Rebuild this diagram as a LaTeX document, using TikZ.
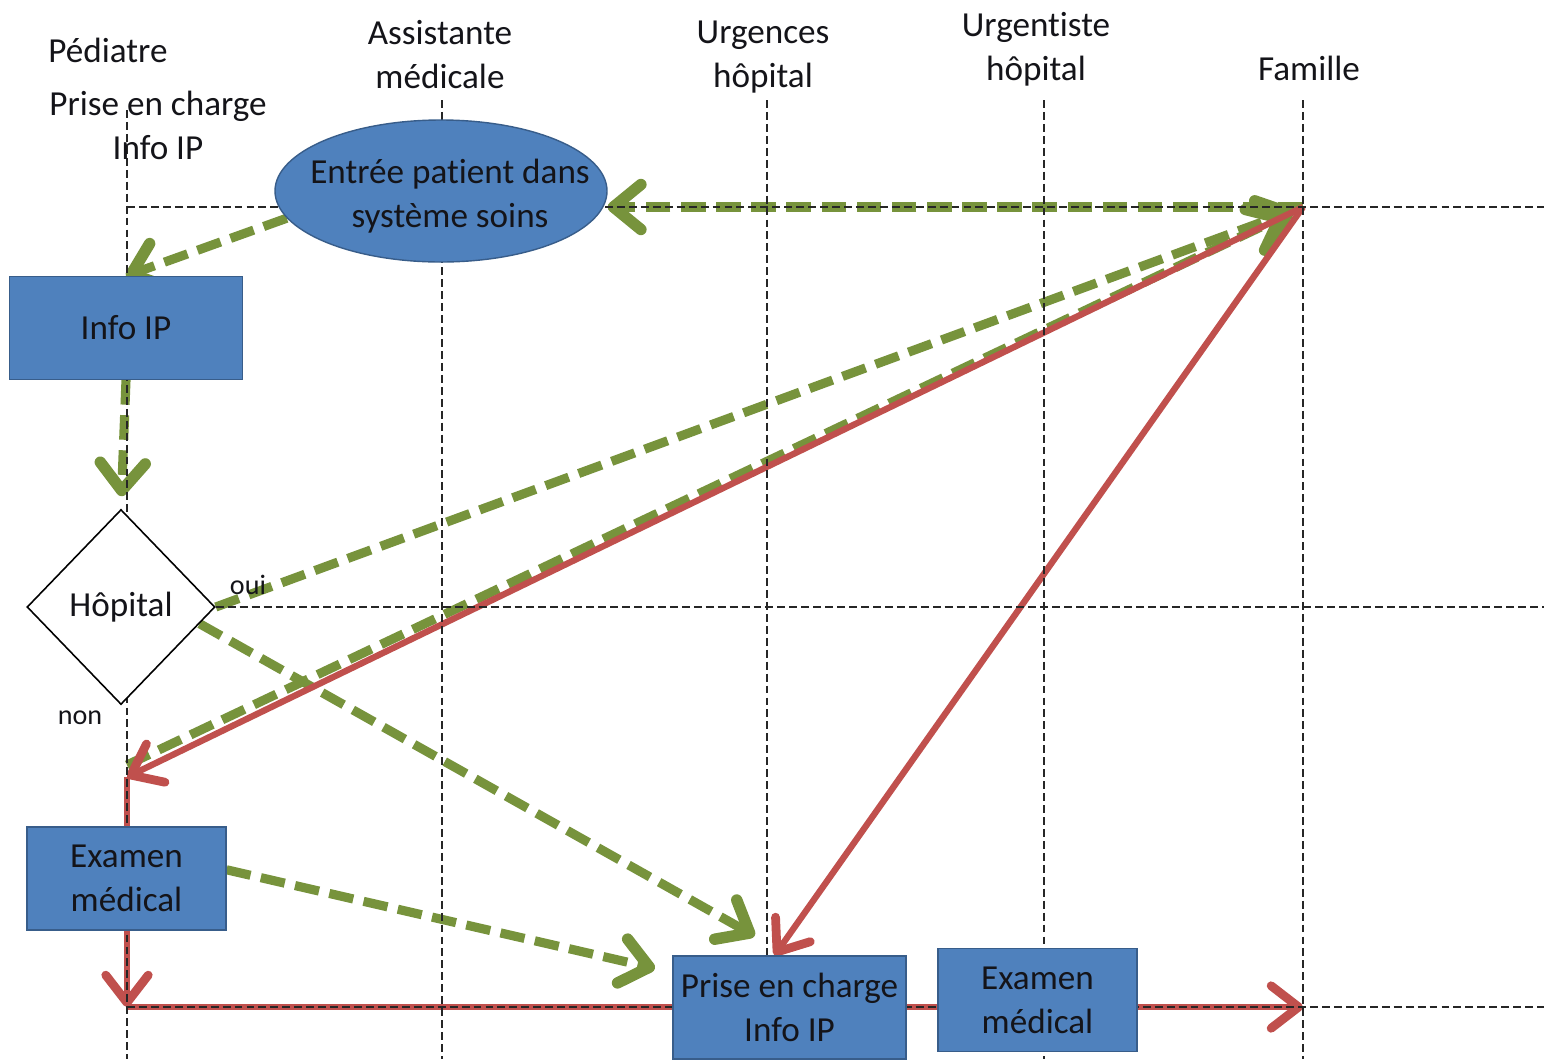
\documentclass[tikz,border=0pt]{standalone}
\usepackage{fontspec}
\setmainfont{Carlito}[Ligatures=NoCommon]
\usetikzlibrary{arrows.meta,shapes.geometric}
\definecolor{boxblue}{RGB}{79,129,189}
\definecolor{boxedge}{RGB}{56,93,138}
\definecolor{olive}{RGB}{119,147,60}
\definecolor{rust}{RGB}{192,80,77}
\definecolor{ink}{RGB}{20,20,25}
\pgfdeclarelayer{conn}
\pgfdeclarelayer{grid}
\pgfsetlayers{conn,grid,main}
\tikzset{
  lbl/.style={font=\fontsize{20}{25}\selectfont,align=center,text=ink},
  side lbl/.style={font=\fontsize{16}{19}\selectfont,text=ink},
  box/.style={fill=boxblue,draw=boxedge,line width=0.6pt,minimum width=#1,
    minimum height=2.06cm,inner sep=0pt,lbl},
  box/.default=4.66cm,
  entry/.style={ellipse,fill=boxblue,draw=boxedge,line width=0.8pt,
    minimum width=6.64cm,minimum height=2.84cm},
  choice/.style={diamond,draw=black,fill=white,line width=0.9pt,
    minimum width=3.76cm,minimum height=3.9cm,inner sep=0pt,lbl},
  lane/.style={draw=black!85,line width=1.1pt,dash pattern=on 4.5pt off 2.3pt},
  greenflow/.style={draw=olive,line width=5.2pt,dash pattern=on 14pt off 6pt,
    -{Straight Barb[length=5.5mm,width=9mm,line width=6.5pt,line cap=round,line join=round]}},
  redflow/.style={draw=rust,line width=3.6pt,
    -{Straight Barb[length=5.5mm,width=8.5mm,line width=5pt,line cap=round,line join=round]}},
}

\begin{document}
\begin{tikzpicture}[x=0.2mm,y=-0.2mm]
  \useasboundingbox (0,0) rectangle (1544,1059);

  % en-tetes des couloirs
  \node[lbl] (pediatre) at (108,50) {Pédiatre};
  \node[lbl] (pedtache) at (158,125) {Prise en charge\\Info IP};
  \node[lbl] (assist) at (440,55) {Assistante\\médicale};
  \node[lbl] (urgences) at (763,57) {Urgences\\hôpital};
  \node[lbl] (urgentiste) at (1036,49) {Urgentiste\\hôpital};
  \node[lbl] (famille) at (1309,68) {Famille};

  % etapes
  \node[entry] (entree) at (441,191) {};
  \node[lbl] (entreetxt) at (450,196) {Entrée patient dans\\système soins};
  \node[box] (info) at (126,328) {Info IP};
  \node[choice] (hopital) at (121,607) {Hôpital};
  \node[box=3.98cm] (examen) at (126.5,878.5) {Examen\\médical};
  \node[box] (prise) at (789.5,1007.5) {Prise en charge\\Info IP};
  \node[box=3.98cm] (examenurg) at (1037.5,1000) {Examen\\médical};
  \node[side lbl] (oui) at (248,585) {oui};
  \node[side lbl] (non) at (80,718) {non};

  \coordinate (fam) at (1303,207);
  \coordinate (pedhaut) at (127,765);
  \coordinate (pedbas) at (127,777);
  \coordinate (pedfin) at (127,1007);
  \coordinate (famfin) at (1303,1007);

  \begin{pgfonlayer}{grid}
    \foreach \x/\y in {127/110,442/100,767/100,1044/100,1303/100}
      \draw[lane] (\x,\y) -- (\x,1059);
    \draw[lane] (127,207) -- (1544,207);
    \draw[lane] (hopital.east) -- (1544,607);
    \draw[lane] (pedfin) -- (1544,1007);
  \end{pgfonlayer}

  \begin{pgfonlayer}{conn}
    \draw[greenflow] (entree.190) -- (info.north);
    \draw[greenflow,shorten >=2.5mm] (info.south) -- (hopital.north);
    \draw[greenflow] (fam) -- (entree.east |- fam);
    \draw[greenflow,shorten >=2mm] (hopital.east) -- (fam);
    \draw[greenflow,shorten >=4mm] (pedhaut) -- (fam);
    \draw[greenflow,shorten >=8mm] (hopital.-12) -- (prise.north);
    \draw[greenflow,shorten >=3.6mm] (examen.5) -- ([yshift=7mm]prise.west);
    \draw[redflow] (fam) -- (pedbas);
    \draw[redflow] (fam) -- ([xshift=-3mm]prise.north);
    \draw[redflow] (pedbas) -- (pedfin);
    \draw[redflow] (pedfin) -- (famfin);
  \end{pgfonlayer}
\end{tikzpicture}
\end{document}
